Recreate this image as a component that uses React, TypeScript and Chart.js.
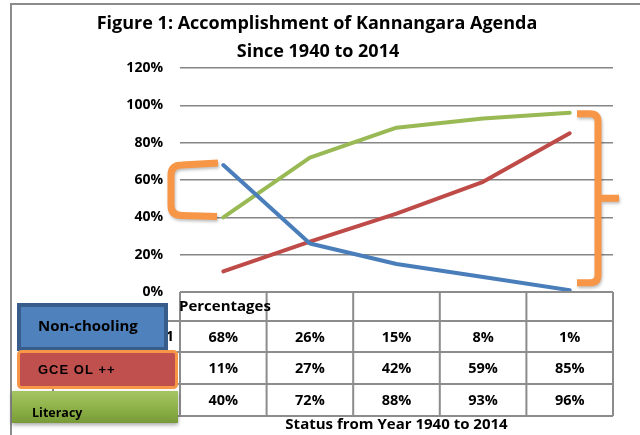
import { useEffect, useRef } from "react";
import { Chart, registerables } from "chart.js";

Chart.register(...registerables);

// ---- data ----
const categories = ["Percentages", "", "", "", ""];
const seriesNames = ["Non-chooling", "GCE OL ++", "Literacy"];
const rowLabels = ["Series1", "Series2", "Series3"];
const nonSchooling = [0.68, 0.26, 0.15, 0.08, 0.01];
const gceOl = [0.11, 0.27, 0.42, 0.59, 0.85];
const literacy = [0.4, 0.72, 0.88, 0.93, 0.96];
const titleLines = ["Figure 1: Accomplishment of Kannangara Agenda", "Since 1940 to 2014"];
const xTitle = "Status from Year 1940 to 2014";
const lineColors = ["#4a7ebb", "#be4b48", "#98b954"];

const FONT = '"Open Sans", Lato, sans-serif';

const overlay = {
  id: "overlay",
  afterDraw(chart: any) {
    const ctx: CanvasRenderingContext2D = chart.ctx;
    const { left, right, bottom } = chart.chartArea;
    const xs = chart.scales.x;
    const ys = chart.scales.y;
    const n = categories.length;
    const colW = (right - left) / n;
    const series = [nonSchooling, gceOl, literacy];

    ctx.save();

    // outer frame
    ctx.strokeStyle = "#8c8c8c";
    ctx.lineWidth = 2;
    ctx.beginPath();
    ctx.moveTo(11, 435);
    ctx.lineTo(11, 4);
    ctx.lineTo(640, 4);
    ctx.stroke();

    // title
    ctx.fillStyle = "#000";
    ctx.textAlign = "center";
    ctx.textBaseline = "middle";
    ctx.font = `bold 18px ${FONT}`;
    ctx.fillText(titleLines[0], 317, 24);
    ctx.fillText(titleLines[1], 318, 52);

    // table
    const rows = [bottom, bottom + 29, bottom + 60, bottom + 92, bottom + 124];
    const labelLeft = 53;
    ctx.strokeStyle = "#8c8c8c";
    ctx.lineWidth = 2;
    ctx.beginPath();
    ctx.moveTo(left, rows[0]);
    ctx.lineTo(right, rows[0]);
    for (let r = 1; r < rows.length; r++) {
      ctx.moveTo(labelLeft, rows[r]);
      ctx.lineTo(right, rows[r]);
    }
    for (let c = 0; c <= n; c++) {
      const x = left + c * colW;
      ctx.moveTo(x, rows[0]);
      ctx.lineTo(x, rows[4]);
    }
    ctx.moveTo(labelLeft, rows[1]);
    ctx.lineTo(labelLeft, rows[4]);
    ctx.stroke();

    ctx.fillStyle = "#000";
    ctx.font = `bold 15px ${FONT}`;
    ctx.textAlign = "left";
    ctx.fillText(categories[0], left - 1, (rows[0] + rows[1]) / 2);
    for (let c = 1; c < n; c++) {
      ctx.textAlign = "center";
      ctx.fillText(categories[c], xs.getPixelForValue(c), (rows[0] + rows[1]) / 2);
    }
    ctx.font = `bold 14.5px ${FONT}`;
    for (let s = 0; s < series.length; s++) {
      const yMid = (rows[s + 1] + rows[s + 2]) / 2;
      ctx.textAlign = "right";
      ctx.fillText(rowLabels[s], left - 6, yMid);
      ctx.textAlign = "center";
      for (let c = 0; c < n; c++) {
        ctx.fillText(Math.round(series[s][c] * 100) + "%", xs.getPixelForValue(c), yMid + 1);
      }
    }

    // x title
    ctx.font = `bold 15px ${FONT}`;
    ctx.textAlign = "center";
    ctx.fillText(xTitle, (left + right) / 2, 425);

    // legend boxes
    // blue
    ctx.fillStyle = "#4f81bd";
    ctx.strokeStyle = "#385d8a";
    ctx.lineWidth = 4;
    ctx.beginPath();
    ctx.rect(19, 305, 147, 44);
    ctx.fill();
    ctx.stroke();
    ctx.fillStyle = "#000";
    ctx.textAlign = "left";
    ctx.font = `bold 15px ${FONT}`;
    ctx.fillText(seriesNames[0], 38, 327);

    // red
    ctx.fillStyle = "#c0504d";
    ctx.strokeStyle = "#f79646";
    ctx.lineWidth = 3;
    ctx.beginPath();
    (ctx as any).roundRect(18.5, 351.5, 158, 36, 3);
    ctx.fill();
    ctx.stroke();
    ctx.fillStyle = "#000";
    ctx.font = `bold 13px "Liberation Sans", Arial, sans-serif`;
    (ctx as any).letterSpacing = "1px";
    ctx.fillText(seriesNames[1], 38, 370);
    (ctx as any).letterSpacing = "0px";

    // green
    ctx.save();
    ctx.shadowColor = "rgba(0,0,0,0.35)";
    ctx.shadowBlur = 4;
    ctx.shadowOffsetY = 2;
    const g = ctx.createLinearGradient(0, 391, 0, 423);
    g.addColorStop(0, "#a5c563");
    g.addColorStop(0.5, "#8fb34a");
    g.addColorStop(1, "#789a38");
    ctx.fillStyle = g;
    ctx.fillRect(12, 391, 166, 32);
    ctx.restore();
    ctx.fillStyle = "#000";
    ctx.font = `bold 12.5px ${FONT}`;
    ctx.fillText(seriesNames[2], 32, 413);

    // orange brackets
    ctx.save();
    ctx.strokeStyle = "#f79646";
    ctx.lineWidth = 7;
    ctx.lineJoin = "round";
    ctx.shadowColor = "rgba(0,0,0,0.25)";
    ctx.shadowBlur = 3;
    ctx.shadowOffsetX = 1;
    ctx.shadowOffsetY = 2;
    const lt = ys.getPixelForValue(0.68);
    const lb = ys.getPixelForValue(0.41);
    const lx = 171;
    ctx.beginPath();
    ctx.moveTo(218, lt - 2);
    ctx.lineTo(182, lt);
    ctx.quadraticCurveTo(lx, lt, lx, lt + 10);
    ctx.lineTo(lx, lb - 10);
    ctx.quadraticCurveTo(lx, lb, 182, lb);
    ctx.lineTo(217, lb + 1);
    ctx.stroke();

    const rt = ys.getPixelForValue(0.955);
    const rb = ys.getPixelForValue(0.05);
    const rm = (rt + rb) / 2;
    const rx = 598;
    ctx.beginPath();
    ctx.moveTo(577, rt);
    ctx.lineTo(590, rt);
    ctx.quadraticCurveTo(rx, rt, rx, rt + 8);
    ctx.lineTo(rx, rb - 8);
    ctx.quadraticCurveTo(rx, rb, 590, rb);
    ctx.lineTo(577, rb);
    ctx.moveTo(rx, rm);
    ctx.lineTo(619, rm);
    ctx.stroke();
    ctx.restore();

    ctx.restore();
  },
};

export default function App() {
  const ref = useRef<HTMLCanvasElement | null>(null);
  useEffect(() => {
    if (!ref.current) return;
    const mk = (i: number, data: number[]) => ({
      label: seriesNames[i],
      data,
      borderColor: lineColors[i],
      backgroundColor: lineColors[i],
      borderWidth: 4,
      pointRadius: 0,
      tension: 0,
      borderCapStyle: "round" as const,
      borderJoinStyle: "round" as const,
    });
    const chart = new Chart(ref.current, {
      type: "line",
      data: {
        labels: categories,
        datasets: [mk(0, nonSchooling), mk(1, gceOl), mk(2, literacy)],
      },
      options: {
        responsive: false,
        animation: false,
        layout: { padding: { left: 120, top: 68, right: 27, bottom: 143 } },
        plugins: { legend: { display: false }, title: { display: false }, tooltip: { enabled: false } },
        scales: {
          x: { type: "category", display: false, offset: true },
          y: {
            min: 0,
            max: 1.2,
            afterFit: (s: any) => {
              s.width = 60;
            },
            border: { display: false },
            grid: { color: "#868686", lineWidth: 1.5, drawTicks: false },
            ticks: {
              stepSize: 0.2,
              padding: 17,
              color: "#000",
              font: { family: FONT, weight: "bold", size: 14 },
              callback: (v: any) => Math.round(Number(v) * 100) + "%",
            },
          },
        },
      },
      plugins: [overlay],
    });
    return () => chart.destroy();
  }, []);
  return (
    <div style={{ position: "fixed", left: 0, top: 0, width: 640, height: 435, background: "#fff" }}>
      <canvas ref={ref} width={640} height={435} style={{ display: "block" }} />
    </div>
  );
}
